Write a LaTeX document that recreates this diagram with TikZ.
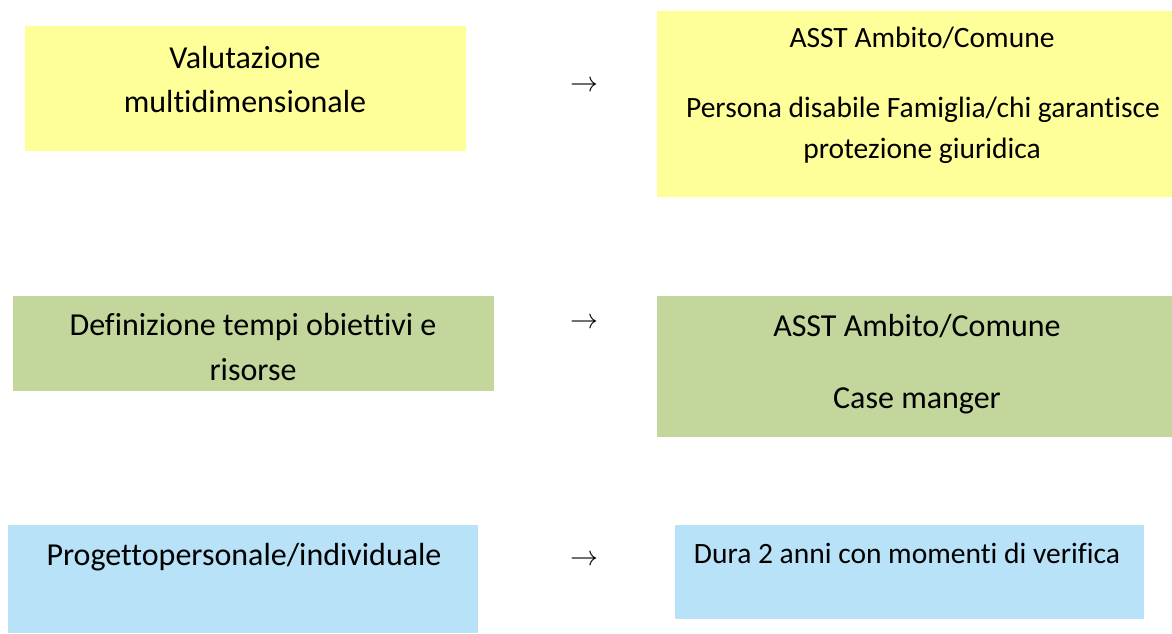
\RequirePackage{fix-cm}
\documentclass[tikz,border=0pt]{standalone}
\usepackage{fontspec}
\setmainfont[Ligatures=NoCommon]{Carlito}
\definecolor{boxyellow}{HTML}{FFFF99}
\definecolor{boxgreen}{HTML}{C3D69B}
\definecolor{boxblue}{HTML}{B7E2F8}
\tikzset{
	box/.style={draw=none, inner sep=0pt, anchor=north west},
	line/.style={inner sep=0pt, anchor=base, font=\fontsize{32}{38}\selectfont},
	smallline/.style={line, font=\fontsize{29.5}{35}\selectfont},
	arrowsign/.style={inner sep=0pt, font=\fontsize{28}{34}\selectfont}
}

\begin{document}
\begin{tikzpicture}[x=1pt, y=-1pt]
			%%%%% START %%%%%
			\useasboundingbox (0, 0) rectangle (1172, 634);
			
			\node[box, fill=boxyellow, minimum width=441pt, minimum height=125pt] (valbox) at (25, 26) {};
			\node[line] (val1) at (245, 68) {Valutazione};
			\node[line] (val2) at (245, 112) {multidimensionale};
			
			\node[box, fill=boxyellow, minimum width=515pt, minimum height=186pt] (asstbox) at (657, 11) {};
			\node[smallline] (asst1) at (922, 48) {ASST Ambito/Comune};
			\node[smallline] (asst2) at (923, 117) {Persona disabile Famiglia/chi garantisce};
			\node[smallline] (asst3) at (922, 158) {protezione giuridica};
			
			\node[box, fill=boxgreen, minimum width=481pt, minimum height=95pt] (defbox) at (13, 296) {};
			\node[line] (def1) at (253, 335) {Definizione tempi obiettivi e};
			\node[line] (def2) at (253, 380) {risorse};
			
			\node[box, fill=boxgreen, minimum width=515pt, minimum height=141pt] (casebox) at (657, 296) {};
			\node[line] (case1) at (917, 336) {ASST Ambito/Comune};
			\node[line] (case2) at (917, 408) {Case manger};
			
			\node[box, fill=boxblue, minimum width=470pt, minimum height=108pt] (progbox) at (8, 525) {};
			\node[line] (prog1) at (244, 565) {Progettopersonale/individuale};
			
			\node[box, fill=boxblue, minimum width=469pt, minimum height=94pt] (durabox) at (675, 525) {};
			\node[smallline] (dura1) at (907, 563) {Dura 2 anni con momenti di verifica};
			
			\node[arrowsign] (arr1) at (584, 86) {$\rightarrow$};
			\node[arrowsign] (arr2) at (584, 323) {$\rightarrow$};
			\node[arrowsign] (arr3) at (584, 560) {$\rightarrow$};
			%%%%% END %%%%%
\end{tikzpicture}
\end{document}
